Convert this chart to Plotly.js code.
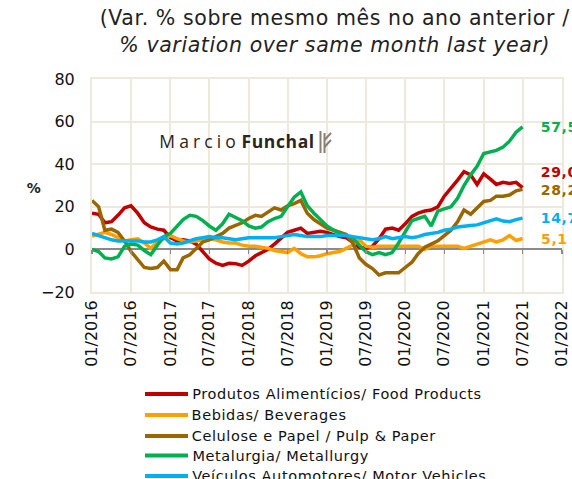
<!DOCTYPE html>
<html>
<head>
<meta charset="utf-8">
<script src="https://cdn.plot.ly/plotly-3.0.1.min.js"></script>
<style>
html,body{margin:0;padding:0;background:#fff;}
#chart{width:572px;height:479px;}
#chart .annotation-text{letter-spacing:0.6px;}
</style>
</head>
<body>
<div id="chart"></div>
<script>
// Monthly series, 01/2016 .. 07/2021 (67 months)
const startYear = 2016, startMonth = 1, nMonths = 67;
const months = [];
for (let i = 0; i < nMonths; i++) {
  const y = startYear + Math.floor((startMonth - 1 + i) / 12);
  const m = ((startMonth - 1 + i) % 12) + 1;
  months.push(y + '-' + String(m).padStart(2, '0') + '-01');
}

const seriesNames = [
  'Produtos Alimentícios/ Food Products',
  'Bebidas/ Beverages',
  'Celulose e Papel / Pulp & Paper',
  'Metalurgia/ Metallurgy',
  'Veículos Automotores/ Motor Vehicles'
];

const food = [17,16.5,12.5,13,16,19.5,20.5,17,12.5,10.5,9.5,9,
  5.5,4,4.5,4,2.5,-1,-4.5,-6.5,-7.5,-6.5,-6.7,-7.5,
  -5.5,-3,-1.5,0,2.5,5.5,8,9,10,7.5,8,8.5,
  8,7,6,5.5,3.5,1,0.5,1.5,5,9.5,10,9,
  12,15.5,17,18,18.5,20,25,28.5,32.5,36.5,35,30.5,
  35.5,33,30.5,31.5,31,31.5,29.0];

const beverages = [6.2,7,8,7,5.5,4,4.5,5,3,0.5,3.5,5,
  6.5,5,4,3.5,4,4.5,5,4.5,3.5,3,3,2,
  1.5,1.5,1,0.5,-0.5,-1,-1.5,0.5,-2,-3.5,-3.5,-3,
  -2,-1.5,-1,0.5,2,4.5,1.5,1,1.5,1.5,1.5,1.5,
  1.5,1.5,1.5,0,1.5,1.5,1.5,1.5,1.5,0.5,1.5,2.5,
  3.5,4.5,3.5,4.5,6.5,4.2,5.1];

const pulp = [23,20,9,9.5,8,4,-1,-5,-8.5,-9,-8.5,-5.5,
  -9.5,-9.5,-4,-2.5,0.5,3.5,4.5,6,7.5,10,11.5,12.5,
  14.5,16,15.5,17.5,19.5,18.5,20.5,21.5,23,17,14,12,
  10,9,8,7,3,-4,-7,-9,-12,-11,-11,-11,
  -8.5,-6,-2,1,2.5,4,6.5,9,13,18.5,16.5,19.5,
  22.5,23,25,25,25.5,27.5,28.2];

const metal = [0,-1,-4,-4.5,-3.5,1.5,2.5,2,-0.5,-2.5,2,6,
  7.5,11,14,16,15.5,13.5,11,9,12,16.5,15,13.5,
  11,10,10.5,13,14.5,15.5,20,24.5,27,20.5,17,14,
  11,9,7.5,6.5,5.5,2,-1,-2.5,-1.5,-2.5,-1.5,3,
  8.5,13.5,14.5,15.5,11,18,19,20,24,30,35,39,
  45,46,46.5,48,50.8,55,57.5];

const vehicles = [7.5,6.5,5.5,4.5,4,4,4,4,3.5,3.5,4.5,6,
  3,2.5,3,4,5,5.5,6,5.5,5.5,5,4.5,5,
  5.5,5.5,5.5,5.5,5.5,6,6.5,7,6.5,6,6,6,
  6.5,6.5,6.5,6.5,6,5.5,5,4.5,5,6,5,5.5,
  6,5.5,6,7,7.5,8,9,9.5,10.5,11,11.2,11.5,
  12.5,13.5,14.3,13.3,13,14,14.7];

const endLabels = ['29,0','5,1','28,2','57,5','14,7'];
const colors = ['#C00000','#FFA000','#996600','#00B050','#00B0F0'];
const data = [food, beverages, pulp, metal, vehicles];

const FONT = 'DejaVu Sans, sans-serif';
const LS = 0.6; // letter spacing applied by CSS to annotation texts

const traces = data.map((vals, i) => ({
  type: 'scatter', mode: 'lines', x: months, y: vals,
  name: seriesNames[i], xaxis: 'x', yaxis: 'y',
  line: {color: colors[i], width: 3.5},
  hoverinfo: 'skip', showlegend: false
}));

// invisible trace to activate the zero-line tick axis
traces.push({type:'scatter', mode:'lines', x:[months[0]], y:[0], xaxis:'x2', yaxis:'y',
  showlegend:false, hoverinfo:'skip', line:{color:'rgba(0,0,0,0)'}});

function px(x) { return (x - 92) / 470; }
function py(y) { return (292 - y) / 213; }

const labelShift = [16, 0, -1, 0, 0];
const annotations = data.map((vals, i) => ({
  x: months[months.length - 1], y: vals[vals.length - 1], xref: 'x', yref: 'y',
  text: '<b>' + endLabels[i] + '</b>', showarrow: false,
  xanchor: 'left', yanchor: 'middle', xshift: 17, yshift: labelShift[i],
  font: {family: FONT, size: 14, color: colors[i]}
}));

annotations.push({
  xref: 'paper', yref: 'paper', x: px(334), y: py(31),
  text: '(Var. % sobre mesmo mês no ano anterior /<br><i>% variation over same month last year)</i>',
  showarrow: false, xanchor: 'center', yanchor: 'middle', align: 'center',
  font: {family: FONT, size: 20.5, color: '#222'}
});
annotations.push({
  xref: 'paper', yref: 'paper', x: px(25), y: py(188),
  text: '<b>%</b>', showarrow: false, xanchor: 'left', yanchor: 'middle',
  font: {family: FONT, size: 14, color: '#222'}
});
const wm = 'M\u2009a\u2009r\u2009c\u2009i\u2009o Funchal';
annotations.push({
  xref: 'paper', yref: 'paper', x: px(157), y: py(141),
  text: 'M\u2009a\u2009r\u2009c\u2009i\u2009o <b>Funchal</b>', showarrow: false,
  xanchor: 'left', yanchor: 'middle', xshift: wm.length * LS / 2,
  font: {family: 'Open Sans, sans-serif', size: 17.5, color: '#2a2523'}
});

const iconColor = '#8c7d74';
const shapes = [
  {type:'line', xref:'paper', yref:'paper', x0:px(320.5), x1:px(320.5), y0:py(131), y1:py(153), line:{color:iconColor, width:2}},
  {type:'line', xref:'paper', yref:'paper', x0:px(324.5), x1:px(324.5), y0:py(133), y1:py(153), line:{color:iconColor, width:2}},
  {type:'line', xref:'paper', yref:'paper', x0:px(324.5), x1:px(331), y0:py(140), y1:py(133), line:{color:iconColor, width:2}},
  {type:'line', xref:'paper', yref:'paper', x0:px(324.5), x1:px(331), y0:py(147), y1:py(140), line:{color:iconColor, width:2}}
];

// hand-built legend (the reference's legend runs off the bottom edge)
const legendRows = [394, 415, 436, 455.5, 476];
seriesNames.forEach((name, i) => {
  shapes.push({type:'line', xref:'paper', yref:'paper', x0:px(145), x1:px(188),
    y0:py(legendRows[i]), y1:py(legendRows[i]), line:{color:colors[i], width:4}});
  annotations.push({xref:'paper', yref:'paper', x:px(190), y:py(legendRows[i]),
    text: name, showarrow:false, xanchor:'left', yanchor:'middle',
    xshift: name.length * LS / 2,
    font:{family: FONT, size: 14.5, color:'#111'}});
});

const gridC = '#EDE9DC';
const layout = {
  width: 572, height: 479,
  margin: {l: 92, r: 10, t: 79, b: 187},
  paper_bgcolor: '#fff', plot_bgcolor: '#fff',
  showlegend: false,
  xaxis: {
    type: 'date', range: ['2016-01-01', '2022-01-01'],
    tick0: '2016-01-01', dtick: 'M6', tickformat: '%m/%Y', tickangle: -90,
    showgrid: true, gridcolor: gridC, gridwidth: 2,
    showline: true, linecolor: gridC, linewidth: 2, mirror: true,
    ticks: '', zeroline: false, automargin: false,
    tickfont: {family: FONT, size: 16, color: '#111'}
  },
  xaxis2: {
    type: 'date', overlaying: 'x', matches: 'x', anchor: 'free', position: 0.2,
    range: ['2016-01-01', '2022-01-01'], tick0: '2016-01-01', dtick: 'M6',
    showticklabels: false, showgrid: false, showline: false, zeroline: false,
    ticks: 'outside', ticklen: 4, tickwidth: 1.5, tickcolor: '#8a8a8a'
  },
  yaxis: {
    range: [-20, 80], dtick: 20, tick0: 0,
    showgrid: true, gridcolor: gridC, gridwidth: 2,
    showline: true, linecolor: gridC, linewidth: 2, mirror: true,
    zeroline: true, zerolinecolor: '#8a8a8a', zerolinewidth: 2,
    ticks: '', ticklabelstandoff: 12, automargin: false,
    tickfont: {family: FONT, size: 16, color: '#111'}
  },
  annotations: annotations,
  shapes: shapes
};

Plotly.newPlot('chart', traces, layout, {displayModeBar: false, staticPlot: true});
</script>
</body>
</html>
